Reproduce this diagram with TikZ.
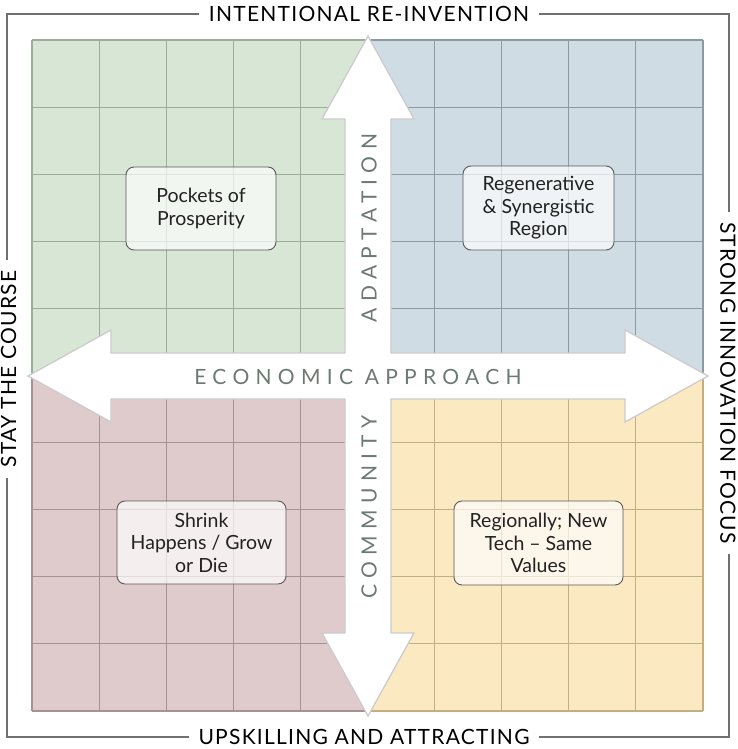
\documentclass[tikz,border=0pt]{standalone}
\usepackage{fontspec}
\setmainfont{Lato}
\newfontfamily\spacedfont[LetterSpace=30]{Lato}
\newfontfamily\edgefont[LetterSpace=6]{Lato}
\definecolor{qgreenF}{HTML}{D8E6D5}
\definecolor{qgreenL}{HTML}{9CAE99}
\definecolor{qblueF}{HTML}{D0DCE3}
\definecolor{qblueL}{HTML}{8C9BA2}
\definecolor{qredF}{HTML}{E0CBCC}
\definecolor{qredL}{HTML}{A69293}
\definecolor{qyelF}{HTML}{FBE9C1}
\definecolor{qyelL}{HTML}{C4AD80}
\definecolor{frameC}{HTML}{707070}
\definecolor{axisC}{HTML}{6E7973}
\definecolor{boxtext}{HTML}{222222}
\begin{document}
\begin{tikzpicture}[x=1pt,y=-1pt,
  edgelabel/.style={font=\edgefont\fontsize{21}{25}\selectfont, text=black, fill=white, inner xsep=10pt, inner ysep=2pt},
  axislabel/.style={font=\spacedfont\fontsize{21}{25}\selectfont, text=axisC, inner sep=0pt},
  quadbox/.style={draw=black!65, line width=0.9pt, rounded corners=8pt, fill=white, fill opacity=0.68, text opacity=1, text=boxtext, align=center, font=\fontsize{19.5}{22.5}\selectfont, inner sep=0pt},
  arrowshape/.style={draw=black!20, line width=1.3pt, fill=white, line join=miter}
]
\useasboundingbox (0,0) rectangle (738,749);
\fill[white] (0,0) rectangle (738,749);
% outer frame
\draw[frameC, line width=1.1pt] (7,14) rectangle (729,737);
% quadrants
\foreach \qx/\qy/\fc/\lc in {32/40/qgreenF/qgreenL, 367.5/40/qblueF/qblueL, 32/375.5/qredF/qredL, 367.5/375.5/qyelF/qyelL} {
  \fill[\fc] (\qx,\qy) rectangle ++(335.5,335.5);
  \foreach \i in {0,...,5} {
    \draw[\lc, line width=1.1pt] (\qx+\i*67.1,\qy) -- ++(0,335.5);
    \draw[\lc, line width=1.1pt] (\qx,\qy+\i*67.1) -- ++(335.5,0);
  }
}
% cross arrow
\draw[arrowshape] (368,36) -- (414,119) -- (391,119) -- (391,353) -- (625,353) -- (625,330) -- (708,376)
  -- (625,422) -- (625,399) -- (391,399) -- (391,633) -- (414,633) -- (368,716) -- (322,633)
  -- (345,633) -- (345,399) -- (111,399) -- (111,422) -- (28,376) -- (111,330) -- (111,353)
  -- (345,353) -- (345,119) -- (322,119) -- cycle;
% axis labels
\node[axislabel] (econ) at (358,377) {ECONOMIC APPROACH};
\node[axislabel, rotate=90] (adapt) at (369,228) {ADAPTATION};
\node[axislabel, rotate=90] (comm) at (369,507) {COMMUNITY};
% edge labels
\node[edgelabel] (top) at (369,14) {INTENTIONAL RE-INVENTION};
\node[edgelabel] (bottom) at (364,737) {UPSKILLING AND ATTRACTING};
\node[edgelabel, rotate=90] (left) at (8.5,369) {STAY THE COURSE};
\node[edgelabel, rotate=-90] (right) at (728,383) {STRONG INNOVATION FOCUS};
% quadrant boxes
\node[quadbox, minimum width=150pt, minimum height=83pt] (pockets) at (201,208.5) {Pockets of\\Prosperity};
\node[quadbox, minimum width=151pt, minimum height=84pt] (regen) at (538.5,208) {Regenerative\\\& Synergistic\\Region};
\node[quadbox, minimum width=169pt, minimum height=83pt] (shrink) at (201.5,542.5) {Shrink\\Happens / Grow\\or Die};
\node[quadbox, minimum width=169pt, minimum height=84pt] (regionally) at (538.5,543) {Regionally; New\\Tech – Same\\Values};
\end{tikzpicture}
\end{document}
